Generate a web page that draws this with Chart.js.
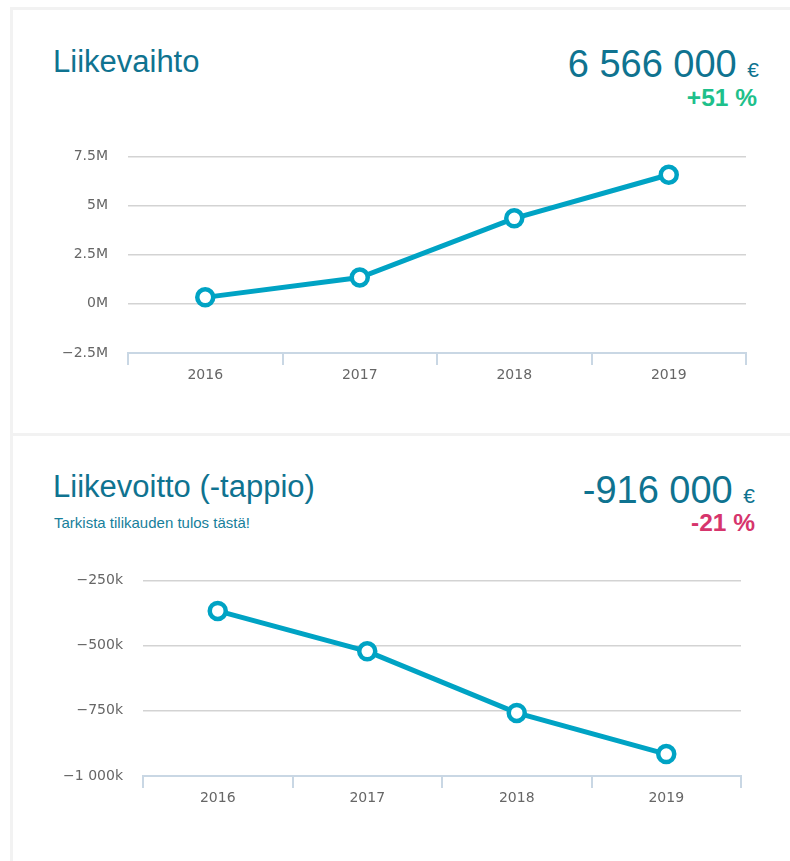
<!DOCTYPE html>
<html>
<head>
<meta charset="utf-8">
<script src="https://cdn.jsdelivr.net/npm/chart.js@4.4.1/dist/chart.umd.min.js"></script>
<style>
  body { margin: 0; background: #fff; width: 790px; height: 861px; overflow: hidden; position: relative; font-family: "Liberation Sans", Arial, sans-serif; }
  .card { position: absolute; left: 10px; width: 800px; border-top: 3px solid #f2f2f2; border-left: 3px solid #f2f2f2; box-sizing: border-box; }
  .title { position: absolute; left: 53px; font-size: 31px; line-height: 31px; color: #0f7390; white-space: nowrap; }
  .sub { position: absolute; left: 54px; font-size: 15px; line-height: 15px; color: #17809b; white-space: nowrap; }
  .value { position: absolute; font-size: 38px; line-height: 38px; color: #0f7390; white-space: nowrap; text-align: right; }
  .value small { font-size: 21px; }
  .change { position: absolute; font-size: 24.5px; line-height: 24.5px; font-weight: bold; white-space: nowrap; text-align: right; }
  .chartbox { position: absolute; }
</style>
</head>
<body>
<div class="card" style="top:7px;height:426px;"></div>
<div class="card" style="top:433px;height:440px;"></div>

<div class="title" style="top:46px;">Liikevaihto</div>
<div class="value" style="top:45px;right:31px;">6 566 000 <small>€</small></div>
<div class="change" style="top:86px;right:33px;color:#1ec08b;">+51 %</div>
<div class="chartbox" style="left:40px;top:128px;width:720px;height:267px;"><canvas id="chart1"></canvas></div>

<div class="title" style="top:471px;">Liikevoitto (-tappio)</div>
<div class="sub" style="top:515px;">Tarkista tilikauden tulos tästä!</div>
<div class="value" style="top:471px;right:35px;">-916 000 <small>€</small></div>
<div class="change" style="top:511px;right:35px;color:#d6356c;">-21 %</div>
<div class="chartbox" style="left:40px;top:552px;width:720px;height:268px;"><canvas id="chart2"></canvas></div>

<script>
// data
const years = ['2016', '2017', '2018', '2019'];
const liikevaihto = [330000, 1340000, 4350000, 6566000];
const liikevoitto = [-367000, -522000, -758000, -916000];

const lineColor = '#00a3c4';
const tickFont = { family: 'DejaVu Sans', size: 14 };

function fmtM(v) {
  const n = Math.abs(v) / 1000000;
  return (v < 0 ? '\u2212' : '') + n + 'M';
}
function fmtK(v) {
  const n = Math.round(Math.abs(v) / 1000).toString().replace(/\B(?=(\d{3})+(?!\d))/g, ' ');
  return (v < 0 ? '\u2212' : '') + n + 'k';
}

function makeChart(id, values, min, max, step, fmt, yWidth, pad) {
  let ctx = document.getElementById(id).getContext('2d');
  return new Chart(ctx, {
    type: 'line',
    data: {
      labels: years,
      datasets: [{
        data: values,
        borderColor: lineColor,
        borderWidth: 5,
        pointRadius: 8,
        pointBorderWidth: 4.5,
        pointBackgroundColor: '#fff',
        pointBorderColor: lineColor,
        tension: 0,
        fill: false
      }]
    },
    options: {
      responsive: true,
      maintainAspectRatio: false,
      animation: false,
      layout: { padding: { top: pad.top, right: pad.right, left: 0, bottom: 0 } },
      plugins: {
        legend: { display: false },
        tooltip: { enabled: false }
      },
      scales: {
        x: {
          offset: true,
          grid: {
            offset: true,
            drawOnChartArea: false,
            drawTicks: true,
            tickLength: 12,
            color: '#c9d7e4',
            lineWidth: 2
          },
          border: { display: true, color: '#c9d7e4', width: 2 },
          ticks: { padding: 2, color: '#666', font: tickFont },
          afterFit: s => { s.height = pad.xh; }
        },
        y: {
          min: min,
          max: max,
          ticks: {
            stepSize: step,
            padding: 20,
            color: '#666',
            font: tickFont,
            callback: v => fmt(v)
          },
          grid: {
            drawTicks: false,
            color: c => c.index === 0 ? 'rgba(0,0,0,0)' : '#d3d3d3',
            lineWidth: 1.5
          },
          border: { display: false },
          afterFit: s => { s.width = yWidth; }
        }
      }
    }
  });
}

makeChart('chart1', liikevaihto, -2500000, 7500000, 2500000, fmtM, 88, { top: 10, right: 14, xh: 42 });
makeChart('chart2', liikevoitto, -1000000, -250000, 250000, fmtK, 103, { top: 15, right: 19, xh: 44 });
</script>
</body>
</html>
